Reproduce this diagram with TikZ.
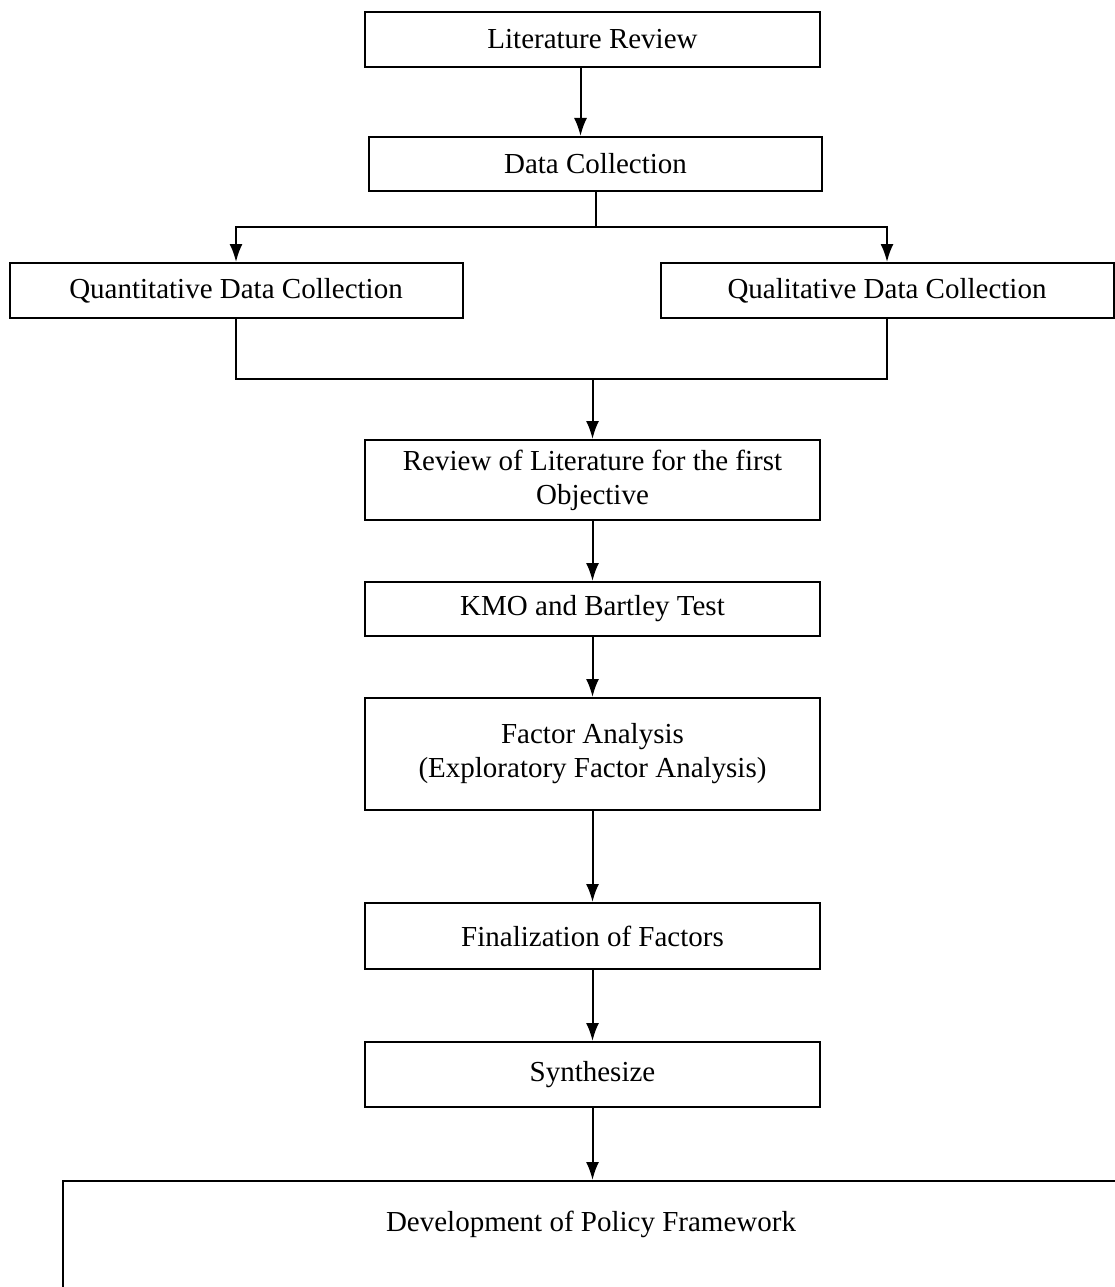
\documentclass[tikz,border=0pt]{standalone}
\usepackage{fontspec}
\setmainfont{Liberation Serif}
\usetikzlibrary{arrows.meta, calc, positioning}

\tikzset{
  etapa/.style={draw, line width=2pt, minimum width=455pt, inner sep=0pt,
    align=center, font=\fontsize{29}{34}\selectfont},
  seta/.style={line width=2pt, -{Latex[length=18pt,width=13pt]}},
  linha/.style={line width=2pt},
}

\begin{document}
\begin{tikzpicture}[x=1pt, y=-1pt]
% Limites da figura (a caixa final fica cortada embaixo e à direita):
\clip (0,0) rectangle (1115,1287);

% Etapas iniciais:
\node[etapa, minimum height=55pt] (lit) at (592.5,39.5) {Literature Review};
\node[etapa, minimum width=453pt, minimum height=54pt] (coleta) at (595.5,164) {Data Collection};

% As duas coletas lado a lado:
\node[etapa, minimum width=453pt, minimum height=55pt] (quant) at (236,290.5) {Quantitative Data Collection};
\node[etapa, minimum width=453pt, minimum height=55pt] (qual) at (887,290.5) {Qualitative Data Collection};

% Sequência central:
\node[etapa, minimum height=80pt] (revisao) at (592.5,480) {Review of Literature for the first\\Objective};
\node[etapa, minimum height=54pt] (kmo) at (592.5,609) {KMO and Bartley Test};
\node[etapa, minimum height=112pt] (fatorial) at (592.5,754) {Factor Analysis\\(Exploratory Factor Analysis)};
\node[etapa, minimum height=66pt] (final) at (592.5,936) {Finalization of Factors};
\node[etapa, minimum height=65pt] (sintese) at (592.5,1074.5) {Synthesize};

% Caixa final (texto no alto da caixa):
\node[etapa, anchor=north, minimum width=1056pt, inner ysep=30pt, text height=20pt, text depth=80pt] (politica) at (591,1180) {Development of Policy Framework};

% Flecha de Literature Review para Data Collection:
\draw[seta] ([xshift=-12pt]lit.south) -- ([xshift=-12pt]lit.south |- coleta.north);

% Divisão para as duas coletas:
\draw[linha] (coleta.south) -- ++(0,35) coordinate (divisao);
\draw[seta] (divisao) -| (quant.north);
\draw[seta] (divisao) -| (qual.north);

% Junção das duas coletas:
\draw[linha] (quant.south) -- ++(0,60) coordinate (juncao) -| (qual.south);
\coordinate (meio) at (revisao.north |- juncao);
\draw[seta] (meio) -- (revisao.north);

% Flechas da sequência central:
\draw[seta] (revisao) -- (kmo);
\draw[seta] (kmo) -- (fatorial);
\draw[seta] (fatorial) -- (final);
\draw[seta] (final) -- (sintese);
\draw[seta] (sintese.south) -- (sintese.south |- politica.north);
\end{tikzpicture}
\end{document}
